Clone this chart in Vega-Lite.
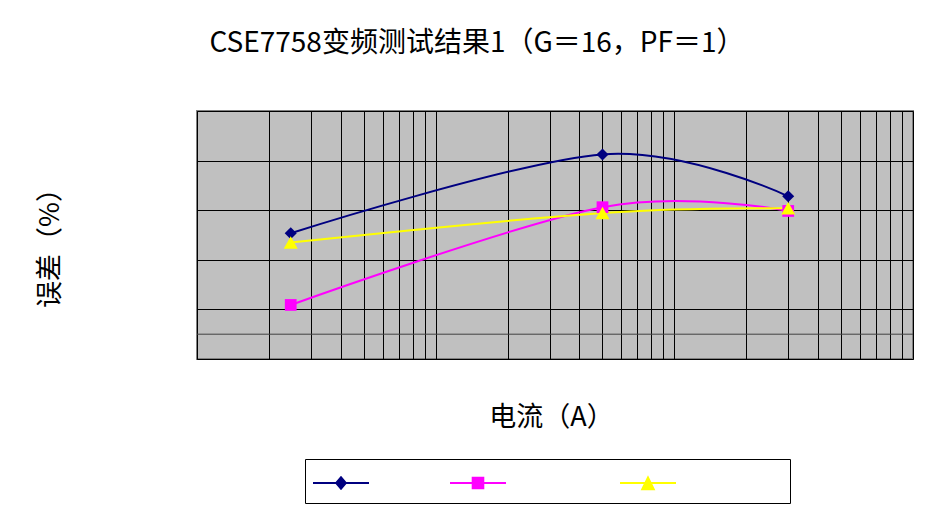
{
  "$schema": "https://vega.github.io/schema/vega-lite/v6.json",
  "width": 716,
  "height": 248,
  "autosize": {"type": "none"},
  "padding": {"left": 197, "top": 111, "right": 36, "bottom": 151},
  "background": "white",
  "config": {
    "view": {"fill": "#c0c0c0", "stroke": "#808080", "strokeWidth": 2},
    "font": "Noto Sans CJK SC"
  },
  "title": {
    "text": "CSE7758变频测试结果1（G＝16，PF＝1）",
    "font": "Noto Sans CJK SC",
    "fontSize": 28,
    "fontWeight": "normal",
    "color": "#000000",
    "anchor": "middle",
    "dx": -78,
    "offset": 53
  },
  "data": {
    "values": [
      {"series": "S1", "current": 0.247, "error": -0.093},
      {"series": "S1", "current": 5, "error": 0.225},
      {"series": "S1", "current": 30, "error": 0.056},
      {"series": "S2", "current": 0.247, "error": -0.382},
      {"series": "S2", "current": 5, "error": 0.012},
      {"series": "S2", "current": 30, "error": -0.003},
      {"series": "S3", "current": 0.247, "error": -0.130},
      {"series": "S3", "current": 5, "error": -0.011},
      {"series": "S3", "current": 30, "error": 0.008}
    ]
  },
  "layer": [
    {
      "data": {"values": [{"level": -0.5}]},
      "mark": {"type": "rule", "color": "#404040", "strokeWidth": 1},
      "encoding": {
        "y": {
          "field": "level", "type": "quantitative",
          "scale": {"domain": [-0.6, 0.4], "nice": false, "zero": false},
          "axis": {
            "labels": false, "ticks": true, "tickSize": -10, "tickColor": "#000000", "domain": false,
            "grid": true, "gridColor": "#000000", "gridWidth": 1, "gridOpacity": 1,
            "values": [-0.6, -0.4, -0.2, 0, 0.2, 0.4],
            "title": "误差（%）",
            "titleFont": "Noto Sans CJK SC", "titleFontSize": 27, "titleFontWeight": "normal", "titleColor": "#000000",
            "titleX": -147, "titleY": 130, "titleAlign": "center", "titleBaseline": "middle", "titleAngle": -90
          }
        }
      }
    },
    {
      "mark": {"type": "line", "interpolate": "cardinal", "tension": 0, "strokeWidth": 2},
      "encoding": {
        "x": {
          "field": "current", "type": "quantitative",
          "scale": {"type": "log", "domain": [0.1, 100], "nice": false},
          "axis": {
            "labels": false, "ticks": false, "domain": false,
            "grid": true, "gridColor": "#000000", "gridWidth": 1, "gridOpacity": 1,
            "values": [0.1,0.2,0.3,0.4,0.5,0.6,0.7,0.8,0.9,1,2,3,4,5,6,7,8,9,10,20,30,40,50,60,70,80,90,100],
            "title": "电流（A）",
            "titleFont": "Noto Sans CJK SC", "titleFontSize": 27, "titleFontWeight": "normal", "titleColor": "#000000",
            "titleX": 354, "titleY": 58, "titleAlign": "center", "titleBaseline": "middle"
          }
        },
        "y": {
          "field": "error", "type": "quantitative",
          "axis": {
            "labels": false, "ticks": true, "tickSize": -10, "tickColor": "#000000", "domain": false,
            "grid": true, "gridColor": "#000000", "gridWidth": 1, "gridOpacity": 1,
            "values": [-0.6, -0.4, -0.2, 0, 0.2, 0.4],
            "title": "误差（%）",
            "titleFont": "Noto Sans CJK SC", "titleFontSize": 27, "titleFontWeight": "normal", "titleColor": "#000000",
            "titleX": -147, "titleY": 130, "titleAlign": "center", "titleBaseline": "middle", "titleAngle": -90
          }
        },
        "color": {
          "field": "series", "type": "nominal",
          "scale": {"domain": ["S1", "S2", "S3"], "range": ["#000080", "#ff00ff", "#ffff00"]},
          "legend": {
            "orient": "none", "legendX": 108, "legendY": 348,
            "direction": "horizontal", "columns": 3,
            "title": null, "padding": 8,
            "strokeColor": "#000000", "fillColor": "#ffffff",
            "symbolSize": 196, "symbolOffset": 0, "symbolOpacity": 1, "symbolStrokeWidth": 0,
            "labelOffset": -14, "labelFontSize": 28, "labelFont": "Noto Sans CJK SC",
            "labelExpr": "'\u2002'",
            "columnPadding": 81
          }
        }
      }
    },
    {
      "transform": [{"filter": "datum.series == 'none'"}],
      "mark": {"type": "point", "filled": true, "size": 196, "opacity": 1},
      "encoding": {
        "x": {"field": "current", "type": "quantitative"},
        "y": {"field": "error", "type": "quantitative"},
        "color": {
          "field": "series", "type": "nominal",
          "legend": {
            "orient": "none", "legendX": 108, "legendY": 348,
            "direction": "horizontal", "columns": 3,
            "title": null, "padding": 8,
            "strokeColor": "#000000", "fillColor": "#ffffff",
            "symbolSize": 196, "symbolOffset": 0, "symbolOpacity": 1, "symbolStrokeWidth": 0,
            "labelOffset": -14, "labelFontSize": 28, "labelFont": "Noto Sans CJK SC",
            "labelExpr": "'\u2002'",
            "columnPadding": 81
          }
        },
        "shape": {
          "field": "series", "type": "nominal",
          "scale": {
            "domain": ["S1", "S2", "S3"],
            "range": [
              "M-2,0.14H6V0.42H-2ZM2,-0.76L2.88,0.28L2,1.32L1.12,0.28Z",
              "M-2,0.14H6V0.42H-2ZM1.1,-0.62H2.9V1.18H1.1ZM10.71,0.28",
              "M-2,0.14H6V0.42H-2ZM2,-0.82L3.05,1.32H0.95ZM21.1,0.28"
            ]
          },
          "legend": {
            "orient": "none", "legendX": 108, "legendY": 348,
            "direction": "horizontal", "columns": 3,
            "title": null, "padding": 8,
            "strokeColor": "#000000", "fillColor": "#ffffff",
            "symbolSize": 196, "symbolOffset": 0, "symbolOpacity": 1, "symbolStrokeWidth": 0,
            "labelOffset": -14, "labelFontSize": 28, "labelFont": "Noto Sans CJK SC",
            "labelExpr": "'\u2002'",
            "columnPadding": 81
          }
        }
      }
    },
    {
      "transform": [{"filter": "datum.series == 'S1'"}],
      "mark": {"type": "point", "shape": "M0,-0.86L0.86,0L0,0.86L-0.86,0Z", "filled": true, "color": "#000080", "size": 196, "opacity": 1},
      "encoding": {
        "x": {"field": "current", "type": "quantitative"},
        "y": {"field": "error", "type": "quantitative"}
      }
    },
    {
      "transform": [{"filter": "datum.series == 'S2'"}],
      "mark": {"type": "point", "shape": "M-0.84,-0.84H0.84V0.84H-0.84Z", "filled": true, "color": "#ff00ff", "size": 196, "opacity": 1},
      "encoding": {
        "x": {"field": "current", "type": "quantitative"},
        "y": {"field": "error", "type": "quantitative"}
      }
    },
    {
      "transform": [{"filter": "datum.series == 'S3'"}],
      "mark": {"type": "point", "shape": "M0,-0.9L1,0.9H-1Z", "filled": true, "color": "#ffff00", "size": 196, "opacity": 1},
      "encoding": {
        "x": {"field": "current", "type": "quantitative"},
        "y": {"field": "error", "type": "quantitative"}
      }
    }
  ]
}
